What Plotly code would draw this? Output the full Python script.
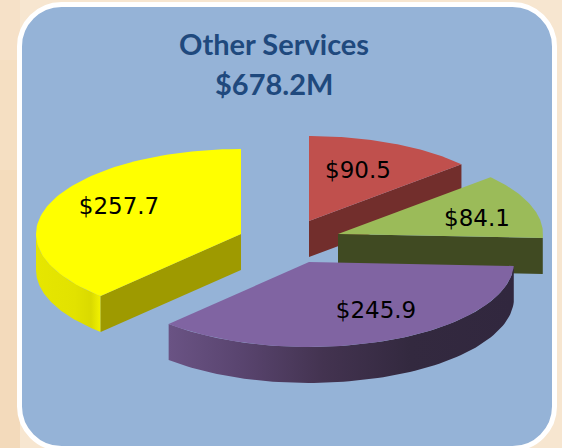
import numpy as np
import plotly.graph_objects as go

# Data ($M)
TITLE = 'Other Services'
TOTAL_LABEL = '$678.2M'
VALUES = [90.5, 84.1, 245.9, 257.7]
VALUE_LABELS = ['$90.5', '$84.1', '$245.9', '$257.7']

# Colors
TOP_COLORS = ['#C0504D', '#9BBB59', '#8064A2', '#FFFF00']
CUT_COLORS = ['#722E2C', '#404A22', '#32283F', '#9E9A00']
PANEL = '#95B3D7'
TITLE_COLOR = '#1F497D'

# Fake 3D pie geometry, in page pixels
RX, RY, DEPTH = 205, 85, 36
CENTERS = [(309, 221), (338, 234), (309, 262), (241, 234)]
LABEL_POS = [(358, 172), (477, 220), (376, 312), (119, 208)]

W, H = 562, 448

total = sum(VALUES)
edges = np.cumsum([0] + VALUES) / total * 2 * np.pi


def arc(center, t0, t1, drop=0):
    t = np.linspace(t0, t1, 80)
    return center[0] + RX * np.sin(t), center[1] - RY * np.cos(t) + drop


def poly(x, y, color=None, gradient=None):
    args = dict(x=list(x) + [x[0]], y=list(y) + [y[0]], mode='lines', fill='toself',
                line=dict(width=0), hoverinfo='skip', showlegend=False)
    if gradient:
        args['fillgradient'] = dict(type='horizontal', colorscale=gradient)
    else:
        args['fillcolor'] = color
    return go.Scatter(**args)


def outer_wall(center, t0, t1, gradient):
    x, y = arc(center, t0, t1)
    xb, yb = arc(center, t1, t0, DEPTH)
    return poly(np.r_[x, xb], np.r_[y, yb], gradient=gradient)


def cut_face(center, t, color):
    ox, oy = arc(center, t, t)
    ox, oy = ox[0], oy[0]
    cx, cy = center
    return poly([cx, ox, ox, cx], [cy, oy, oy + DEPTH, cy + DEPTH], color)


def top_face(i):
    x, y = arc(CENTERS[i], edges[i], edges[i + 1])
    return poly(np.r_[CENTERS[i][0], x], np.r_[CENTERS[i][1], y], TOP_COLORS[i])


def rounded_rect(x0, y0, x1, y1, r):
    k = r * 0.45  # bezier handle offset for a quarter circle
    return (f'M {x0 + r} {y0} L {x1 - r} {y0} C {x1 - k} {y0} {x1} {y0 + k} {x1} {y0 + r} '
            f'L {x1} {y1 - r} C {x1} {y1 - k} {x1 - k} {y1} {x1 - r} {y1} '
            f'L {x0 + r} {y1} C {x0 + k} {y1} {x0} {y1 - k} {x0} {y1 - r} '
            f'L {x0} {y0 + r} C {x0} {y0 + k} {x0 + k} {y0} {x0 + r} {y0} Z')


fig = go.Figure()

# Yellow first, then back to front
fig.add_trace(outer_wall(CENTERS[3], edges[3], 1.5 * np.pi,
                         [[0, '#E6E600'], [0.6, '#E2E200'], [0.85, '#DADA00'], [1, '#F2F200']]))
fig.add_trace(cut_face(CENTERS[3], edges[3], CUT_COLORS[3]))
fig.add_trace(top_face(3))

fig.add_trace(cut_face(CENTERS[0], edges[1], CUT_COLORS[0]))
fig.add_trace(top_face(0))

fig.add_trace(cut_face(CENTERS[1], edges[2], CUT_COLORS[1]))
fig.add_trace(top_face(1))

fig.add_trace(outer_wall(CENTERS[2], edges[2], edges[3],
                         [[0, '#6A5384'], [0.2, '#5A4570'], [0.45, '#433350'],
                          [0.7, '#33293F'], [1, '#31273E']]))
fig.add_trace(top_face(2))

# Slice labels
fig.add_trace(go.Scatter(
    x=[p[0] for p in LABEL_POS], y=[p[1] for p in LABEL_POS],
    mode='text', text=VALUE_LABELS, hoverinfo='skip', showlegend=False,
    textposition='middle center',
    textfont=dict(family='DejaVu Sans', size=23, color='#000000'),
))

fig.update_layout(
    width=W, height=H,
    margin=dict(l=0, r=0, t=0, b=0),
    paper_bgcolor='#F7E6D0',
    plot_bgcolor='rgba(0,0,0,0)',
    xaxis=dict(range=[0, W], visible=False, fixedrange=True),
    yaxis=dict(range=[H, 0], visible=False, fixedrange=True),
    shapes=[
        # mottled peach strip down the left edge
        dict(type='rect', x0=0, x1=20, y0=0, y1=60, layer='below', line_width=0, fillcolor='#F6E1C8'),
        dict(type='rect', x0=0, x1=20, y0=60, y1=170, layer='below', line_width=0, fillcolor='#F5DFC2'),
        dict(type='rect', x0=0, x1=20, y0=170, y1=300, layer='below', line_width=0, fillcolor='#F4DCBC'),
        dict(type='rect', x0=0, x1=20, y0=300, y1=448, layer='below', line_width=0, fillcolor='#F3DABB'),
        dict(type='path', path=rounded_rect(19.5, 4.5, 554.5, 448.5, 42), layer='below',
             fillcolor=PANEL, line=dict(color='#FFFFFF', width=5)),
    ],
    annotations=[
        dict(x=274, y=43, text=f'<b>{TITLE}</b>', showarrow=False, xref='x', yref='y',
             font=dict(family='Lato', size=29, color=TITLE_COLOR)),
        dict(x=274, y=83, text=f'<b>{TOTAL_LABEL}</b>', showarrow=False, xref='x', yref='y',
             font=dict(family='Lato', size=29, color=TITLE_COLOR)),
    ],
)

# page body has a default 8px margin, drop it so pixels line up
fig.write_html('out.html', config={'displayModeBar': False},
               post_script="document.body.style.margin='0';")
